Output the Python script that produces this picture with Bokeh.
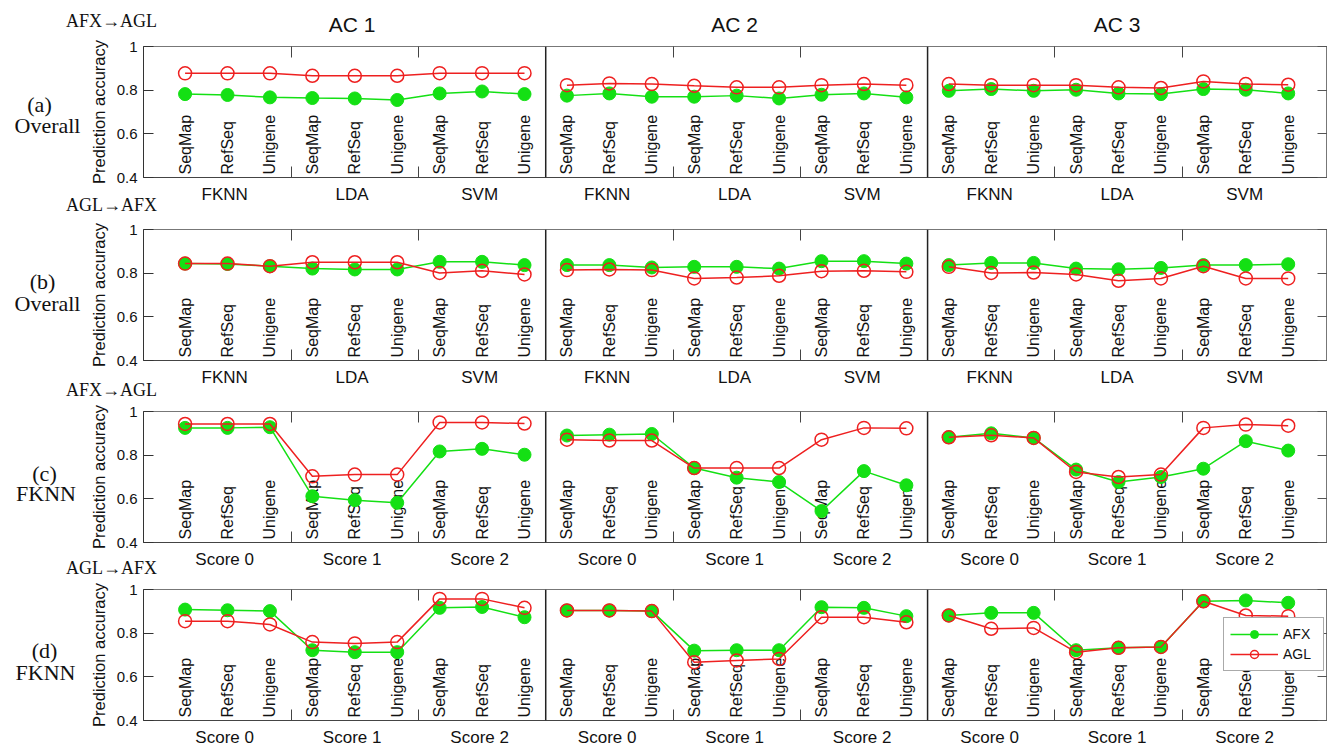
import math
from bokeh.plotting import figure
from bokeh.models import (FixedTicker, LinearAxis, Span, Legend,
                          LegendItem, Range1d)
from bokeh.layouts import column, row
from bokeh.core.properties import value
from bokeh.embed import file_html
from bokeh.resources import INLINE

# ---------------- data ----------------
methods = ["SeqMap", "RefSeq", "Unigene"]
ac_labels = ["AC 1", "AC 2", "AC 3"]
classifier_groups = ["FKNN", "LDA", "SVM"]
score_groups = ["Score 0", "Score 1", "Score 2"]
row_letters = ["(a)", "(b)", "(c)", "(d)"]
row_names = ["Overall", "Overall", "FKNN", "FKNN"]
row_directions = ["AFX→AGL", "AGL→AFX", "AFX→AGL", "AGL→AFX"]
series_names = ["AFX", "AGL"]
y_ticks = [0.4, 0.6, 0.8, 1.0]

a_afx = [0.782, 0.778, 0.767, 0.764, 0.762, 0.755, 0.785, 0.794, 0.782,
         0.775, 0.785, 0.770, 0.770, 0.775, 0.762, 0.779, 0.785, 0.767,
         0.797, 0.805, 0.797, 0.802, 0.785, 0.782, 0.805, 0.802, 0.785]
a_agl = [0.877, 0.877, 0.877, 0.866, 0.866, 0.866, 0.878, 0.878, 0.878,
         0.823, 0.831, 0.828, 0.820, 0.813, 0.813, 0.823, 0.828, 0.823,
         0.828, 0.823, 0.823, 0.823, 0.813, 0.810, 0.840, 0.828, 0.825]
b_afx = [0.844, 0.842, 0.832, 0.821, 0.817, 0.817, 0.852, 0.852, 0.837,
         0.837, 0.837, 0.826, 0.829, 0.829, 0.821, 0.855, 0.855, 0.844,
         0.837, 0.847, 0.847, 0.821, 0.818, 0.824, 0.837, 0.837, 0.841]
b_agl = [0.844, 0.844, 0.832, 0.850, 0.850, 0.850, 0.801, 0.811, 0.794,
         0.814, 0.817, 0.814, 0.776, 0.780, 0.788, 0.809, 0.811, 0.806,
         0.829, 0.801, 0.803, 0.794, 0.765, 0.776, 0.832, 0.776, 0.776]
c_afx = [0.925, 0.925, 0.928, 0.612, 0.594, 0.582, 0.817, 0.829, 0.802,
         0.890, 0.894, 0.897, 0.741, 0.697, 0.677, 0.544, 0.727, 0.662,
         0.882, 0.900, 0.879, 0.734, 0.677, 0.700, 0.738, 0.864, 0.821]
c_agl = [0.943, 0.943, 0.943, 0.703, 0.711, 0.711, 0.950, 0.950, 0.945,
         0.871, 0.867, 0.867, 0.741, 0.741, 0.741, 0.871, 0.925, 0.923,
         0.882, 0.891, 0.879, 0.723, 0.700, 0.711, 0.925, 0.940, 0.935]
d_afx = [0.908, 0.905, 0.901, 0.722, 0.713, 0.713, 0.916, 0.920, 0.873,
         0.904, 0.904, 0.901, 0.720, 0.722, 0.722, 0.919, 0.916, 0.878,
         0.881, 0.893, 0.893, 0.722, 0.733, 0.737, 0.946, 0.950, 0.939]
d_agl = [0.855, 0.855, 0.840, 0.759, 0.753, 0.759, 0.957, 0.957, 0.916,
         0.904, 0.904, 0.901, 0.667, 0.675, 0.682, 0.873, 0.873, 0.850,
         0.881, 0.820, 0.824, 0.713, 0.733, 0.737, 0.946, 0.881, 0.878]

rows_afx = [a_afx, b_afx, c_afx, d_afx]
rows_agl = [a_agl, b_agl, c_agl, d_agl]
rows_groups = [classifier_groups, classifier_groups, score_groups, score_groups]

# ---------------- structure ----------------
n_m = len(methods)
n_g = 3
n_p = len(ac_labels)
per_panel = n_m * n_g
xs = list(range(per_panel * n_p))
group_centers = [float(g * n_m + (n_m - 1) / 2) for g in range(n_g * n_p)]
group_seps = [g * n_m - 0.5 for g in range(1, n_g * n_p) if g % n_g]
panel_seps = [p * per_panel - 0.5 for p in range(1, n_p)]
panel_centers = [float(p * per_panel + (per_panel - 1) / 2) for p in range(n_p)]

# ---------------- styling / layout ----------------
GREEN = "#14e014"
RED = "#ee2020"
SANS = "Liberation Sans"
SERIF = "Liberation Serif"
TXT = "#111111"

PAGE_W = 1327
LEFT_W = 86
MAIN_W = PAGE_W - LEFT_W
MAIN_LEFT = 54
FRAME_LEFT = LEFT_W + MAIN_LEFT          # 140
PXU = 42.5                                # px per category step
X0 = -0.98
X1 = X0 + (MAIN_W - MAIN_LEFT - 1) / PXU

ROW_BT, ROW_FH, ROW_BB = 7, 131, 7
ROW_H = ROW_BT + ROW_FH + ROW_BB         # 145
band_h = [39, 38, 37, 33, 20]
# page-y centres of texts inside the bands
group_label_y = [194, 377, 559, 737]
title_y = [20, 204, 389, 567]
ac_y = 24

letter_off = [-8, -15, -4, -5]
name_off = [15, 9, 18, 19]
letter_px = [39, 42, 44, 44]
name_px = [47, 47, 45.5, 45]
DIR_PX = 111


def dx(page_x):
    return X0 + (page_x - FRAME_LEFT) / PXU


def blank_fig(w, h, xr, yr):
    f = figure(width=w, height=h, x_range=xr, y_range=yr,
               output_backend="svg", toolbar_location=None,
               x_axis_location=None, y_axis_location=None,
               min_border_left=0, min_border_right=0,
               min_border_top=0, min_border_bottom=0)
    f.xgrid.visible = False
    f.ygrid.visible = False
    f.outline_line_color = None
    f.background_fill_color = "white"
    f.border_fill_color = "white"
    return f


band_top = []
row_top = []
y = 0
for k in range(5):
    band_top.append(y)
    y += band_h[k]
    if k < 4:
        row_top.append(y)
        y += ROW_H


def band(k):
    h = band_h[k]
    top = band_top[k]
    b = blank_fig(PAGE_W, h, Range1d(dx(0), dx(PAGE_W)), Range1d(0, h))

    def by(page_y):
        return h - (page_y - top)

    if k == 0:
        b.text(x=panel_centers, y=[by(ac_y)] * n_p, text=ac_labels,
               text_font=value(SANS), text_font_size="21px",
               text_color=TXT, text_align="center", text_baseline="middle")
    if k >= 1:
        grp = rows_groups[k - 1]
        b.text(x=group_centers, y=[by(group_label_y[k - 1])] * len(group_centers),
               text=[grp[i % n_g] for i in range(len(group_centers))],
               text_font=value(SANS), text_font_size="17px",
               text_color=TXT, text_align="center", text_baseline="middle")
    if k < 4:
        b.text(x=[dx(DIR_PX)], y=[by(title_y[k])], text=[row_directions[k]],
               text_font=value(SERIF), text_font_size="18px",
               text_color=TXT, text_align="center", text_baseline="middle")
    return b


def left_fig(r):
    h = ROW_H
    lf = blank_fig(LEFT_W, h, Range1d(0, LEFT_W), Range1d(0, h))
    centre = ROW_BT + ROW_FH / 2
    lf.text(x=[letter_px[r], name_px[r]],
            y=[h - (centre + letter_off[r]), h - (centre + name_off[r])],
            text=[row_letters[r], row_names[r]],
            text_font=value(SERIF), text_font_size="22px", text_color=TXT,
            text_align="center", text_baseline="middle")
    return lf


def main_fig(r):
    p = figure(width=MAIN_W, height=ROW_H, x_range=Range1d(X0, X1),
               y_range=Range1d(0.4, 1.0), output_backend="svg",
               toolbar_location=None, x_axis_location=None,
               y_axis_location=None, min_border_left=MAIN_LEFT,
               min_border_right=0, min_border_top=ROW_BT,
               min_border_bottom=ROW_BB)
    p.xgrid.visible = False
    p.ygrid.visible = False
    p.outline_line_color = "#777777"
    p.outline_line_width = 1
    p.background_fill_color = "white"
    p.border_fill_color = "white"

    yl = LinearAxis(ticker=FixedTicker(ticks=y_ticks),
                    axis_label="Prediction accuracy")
    yl.major_label_overrides = {1.0: "1"}
    yl.major_tick_in = 10
    yl.major_tick_out = 0
    yl.minor_tick_line_color = None
    yl.major_tick_line_color = "#333333"
    yl.axis_line_color = "#333333"
    yl.major_label_text_font = SANS
    yl.major_label_text_font_size = "15px"
    yl.major_label_text_color = TXT
    yl.major_label_standoff = 6
    yl.axis_label_text_font = SANS
    yl.axis_label_text_font_size = "16.5px"
    yl.axis_label_text_font_style = "normal"
    yl.axis_label_text_color = TXT
    yl.axis_label_standoff = 6
    p.add_layout(yl, "left")

    yr = LinearAxis(ticker=FixedTicker(ticks=y_ticks))
    yr.major_tick_in = 10
    yr.major_tick_out = 0
    yr.minor_tick_line_color = None
    yr.major_tick_line_color = "#555555"
    yr.axis_line_color = "#777777"
    yr.major_label_text_font_size = "1px"
    yr.major_label_text_color = None
    yr.major_label_standoff = 0
    p.add_layout(yr, "right")

    for place, color in (("below", "#444444"), ("above", "#777777")):
        ax = LinearAxis(ticker=FixedTicker(ticks=[], minor_ticks=group_seps))
        ax.major_tick_line_color = None
        ax.major_tick_in = 0
        ax.major_tick_out = 0
        ax.minor_tick_in = 11
        ax.minor_tick_out = 0
        ax.minor_tick_line_color = "#444444"
        ax.axis_line_color = color
        ax.major_label_standoff = 0
        p.add_layout(ax, place)

    p.text(x=xs, y=[0.4] * len(xs), text=methods * (n_g * n_p),
           angle=math.pi / 2, text_align="left", text_baseline="middle",
           y_offset=-3, text_font=value(SANS), text_font_size="16px",
           text_color=TXT)

    afx = rows_afx[r]
    agl = rows_agl[r]
    rends = {}
    for k in range(n_p):
        sl = slice(k * per_panel, (k + 1) * per_panel)
        l1 = p.line(xs[sl], afx[sl], line_color=GREEN, line_width=1.5)
        s1 = p.scatter(xs[sl], afx[sl], marker="circle", size=13,
                       fill_color=GREEN, line_color=GREEN)
        if k == 0:
            rends["AFX"] = [l1, s1]
    for k in range(n_p):
        sl = slice(k * per_panel, (k + 1) * per_panel)
        l2 = p.line(xs[sl], agl[sl], line_color=RED, line_width=1.5)
        s2 = p.scatter(xs[sl], agl[sl], marker="circle", size=13,
                       fill_color=None, line_color=RED, line_width=1.5)
        if k == 0:
            rends["AGL"] = [l2, s2]

    for sx in panel_seps:
        p.add_layout(Span(location=sx, dimension="height",
                          line_color="#222222", line_width=1.5))

    if r == 3:
        legend = Legend(items=[LegendItem(label=series_names[0], renderers=rends["AFX"]),
                               LegendItem(label=series_names[1], renderers=rends["AGL"])],
                        location=(1080, 49))
        legend.label_text_font = SANS
        legend.label_text_font_size = "14px"
        legend.label_text_color = TXT
        legend.glyph_width = 48
        legend.glyph_height = 20
        legend.label_height = 20
        legend.label_width = 34
        legend.label_standoff = 5
        legend.padding = 6
        legend.spacing = 0
        legend.margin = 0
        legend.border_line_color = "#555555"
        legend.border_line_width = 1
        legend.background_fill_color = "white"
        legend.background_fill_alpha = 1.0
        p.add_layout(legend)
    return p


children = []
for k in range(5):
    children.append(band(k))
    if k < 4:
        children.append(row(left_fig(k), main_fig(k), spacing=0))

layout = column(*children, spacing=0)
open("out.html", "w").write(file_html(layout, INLINE))
